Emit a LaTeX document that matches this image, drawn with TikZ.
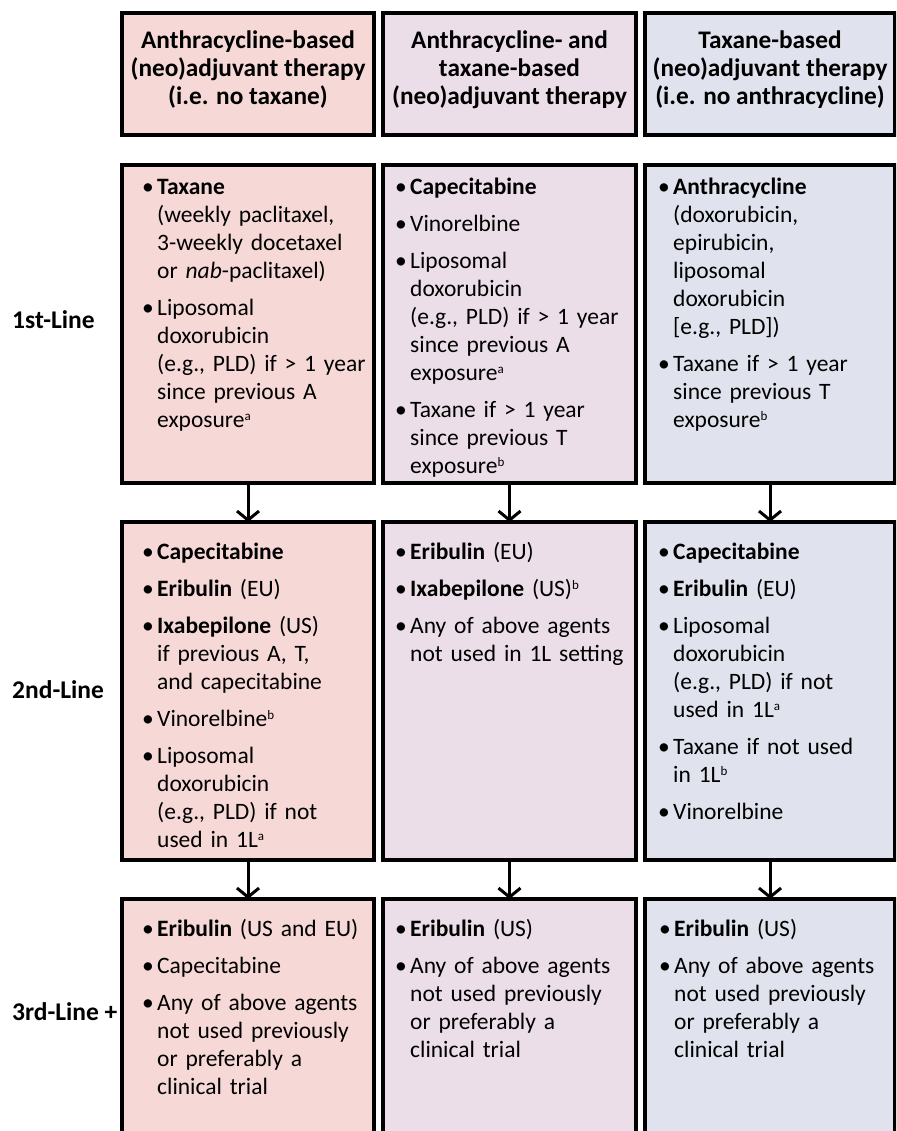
\documentclass[tikz,border=0pt]{standalone}
\usepackage{fontspec}
\setmainfont{Carlito}
\usetikzlibrary{arrows.meta}
\definecolor{cpink}{HTML}{F6D9D6}
\definecolor{clav}{HTML}{ECDEE8}
\definecolor{cblue}{HTML}{E0E3ED}
\newcommand{\bulletitem}[1]{\par\hangindent=15pt\hangafter=1\noindent\rule{0pt}{17pt}\makebox[15pt][l]{•}#1\par}
\newcommand{\itemgap}{\par\vspace{9pt}}
\newcommand{\sups}[1]{\raisebox{7pt}{\fontsize{13}{13}\selectfont #1}}
\hyphenpenalty=10000
\begin{document}
\begin{tikzpicture}[x=1pt,y=-1pt,
  box/.style={draw=black, line width=3.5pt, anchor=north west, inner sep=0pt, outer sep=0pt},
  txt/.style={anchor=north west, inner sep=0pt, text width=300pt, align=left, font=\fontsize{23.5}{28}\selectfont},
  htxt/.style={anchor=north, inner sep=0pt, align=center, font=\fontsize{25.3}{28}\selectfont\bfseries},
  lab/.style={anchor=base west, inner sep=0pt, font=\fontsize{25.5}{28}\selectfont\bfseries},
  flow/.style={draw=black, line width=3pt, -{Straight Barb[length=9pt,width=22pt,line width=3pt]}}]
\useasboundingbox (0,0) rectangle (896,1131);
\clip (0,0) rectangle (896,1131);
\fill[white] (0,0) rectangle (896,1131);
% header boxes
\node[box, fill=cpink, minimum width=252pt, minimum height=122pt] (h1) at (122,13) {};
\node[box, fill=clav,  minimum width=253pt, minimum height=122pt] (h2) at (383,13) {};
\node[box, fill=cblue, minimum width=250pt, minimum height=122pt] (h3) at (645,13) {};
% row 1
\node[box, fill=cpink, minimum width=252pt, minimum height=318pt] (b11) at (122,165) {};
\node[box, fill=clav,  minimum width=253pt, minimum height=318pt] (b12) at (383,165) {};
\node[box, fill=cblue, minimum width=250pt, minimum height=318pt] (b13) at (645,165) {};
% row 2
\node[box, fill=cpink, minimum width=252pt, minimum height=338pt] (b21) at (122,522) {};
\node[box, fill=clav,  minimum width=253pt, minimum height=338pt] (b22) at (383,522) {};
\node[box, fill=cblue, minimum width=250pt, minimum height=338pt] (b23) at (645,522) {};
% row 3
\node[box, fill=cpink, minimum width=252pt, minimum height=300pt] (b31) at (122,899) {};
\node[box, fill=clav,  minimum width=253pt, minimum height=300pt] (b32) at (383,899) {};
\node[box, fill=cblue, minimum width=250pt, minimum height=300pt] (b33) at (645,899) {};
% arrows
\draw[flow] (b11.south) -- (b21.north);
\draw[flow] (b12.south) -- (b22.north);
\draw[flow] (b13.south) -- (b23.north);
\draw[flow] (b21.south) -- (b31.north);
\draw[flow] (b22.south) -- (b32.north);
\draw[flow] (b23.south) -- (b33.north);
% header texts
\node[htxt] (ht1) at (248,31) {\rule{0pt}{17pt}Anthracycline-based\\(neo)adjuvant therapy\\(i.e. no taxane)};
\node[htxt] (ht2) at (509.5,31) {\rule{0pt}{17pt}Anthracycline- and\\taxane-based\\(neo)adjuvant therapy};
\node[htxt] (ht3) at (770,31) {\rule{0pt}{17pt}Taxane-based\\(neo)adjuvant therapy\\(i.e. no anthracycline)};
% row labels
\node[lab] (l1) at (12,328) {1st-Line};
\node[lab] (l2) at (12,698) {2nd-Line};
\node[lab] (l3) at (12,1020) {3rd-Line +};
% row 1 texts
\node[txt] (t11) at (142,166) {\bulletitem{\textbf{Taxane}\newline(weekly paclitaxel,\newline 3-weekly docetaxel\newline or \textit{nab}-paclitaxel)}\itemgap
\bulletitem{Liposomal\newline doxorubicin\newline(e.g., PLD) if > 1 year\newline since previous A\newline exposure\sups{a}}};
\node[txt] (t12) at (395,166) {\bulletitem{\textbf{Capecitabine}}\itemgap
\bulletitem{Vinorelbine}\itemgap
\bulletitem{Liposomal\newline doxorubicin\newline(e.g., PLD) if > 1 year\newline since previous A\newline exposure\sups{a}}\itemgap
\bulletitem{Taxane if > 1 year\newline since previous T\newline exposure\sups{b}}};
\node[txt] (t13) at (658,166) {\bulletitem{\textbf{Anthracycline}\newline(doxorubicin,\newline epirubicin,\newline liposomal\newline doxorubicin\newline [e.g., PLD])}\itemgap
\bulletitem{Taxane if > 1 year\newline since previous T\newline exposure\sups{b}}};
% row 2 texts
\node[txt] (t21) at (142,531) {\bulletitem{\textbf{Capecitabine}}\itemgap
\bulletitem{\textbf{Eribulin} (EU)}\itemgap
\bulletitem{\textbf{Ixabepilone} (US)\newline if previous A, T,\newline and capecitabine}\itemgap
\bulletitem{Vinorelbine\sups{b}}\itemgap
\bulletitem{Liposomal\newline doxorubicin\newline(e.g., PLD) if not\newline used in 1L\sups{a}}};
\node[txt] (t22) at (395,531) {\bulletitem{\textbf{Eribulin} (EU)}\itemgap
\bulletitem{\textbf{Ixabepilone} (US)\sups{b}}\itemgap
\bulletitem{Any of above agents\newline not used in 1L setting}};
\node[txt] (t23) at (658,531) {\bulletitem{\textbf{Capecitabine}}\itemgap
\bulletitem{\textbf{Eribulin} (EU)}\itemgap
\bulletitem{Liposomal\newline doxorubicin\newline(e.g., PLD) if not\newline used in 1L\sups{a}}\itemgap
\bulletitem{Taxane if not used\newline in 1L\sups{b}}\itemgap
\bulletitem{Vinorelbine}};
% row 3 texts
\node[txt] (t31) at (142,908) {\bulletitem{\textbf{Eribulin} (US and EU)}\itemgap
\bulletitem{Capecitabine}\itemgap
\bulletitem{Any of above agents\newline not used previously\newline or preferably a\newline clinical trial}};
\node[txt] (t32) at (395,908) {\bulletitem{\textbf{Eribulin} (US)}\itemgap
\bulletitem{Any of above agents\newline not used previously\newline or preferably a\newline clinical trial}};
\node[txt] (t33) at (659,908) {\bulletitem{\textbf{Eribulin} (US)}\itemgap
\bulletitem{Any of above agents\newline not used previously\newline or preferably a\newline clinical trial}};
\end{tikzpicture}
\end{document}
